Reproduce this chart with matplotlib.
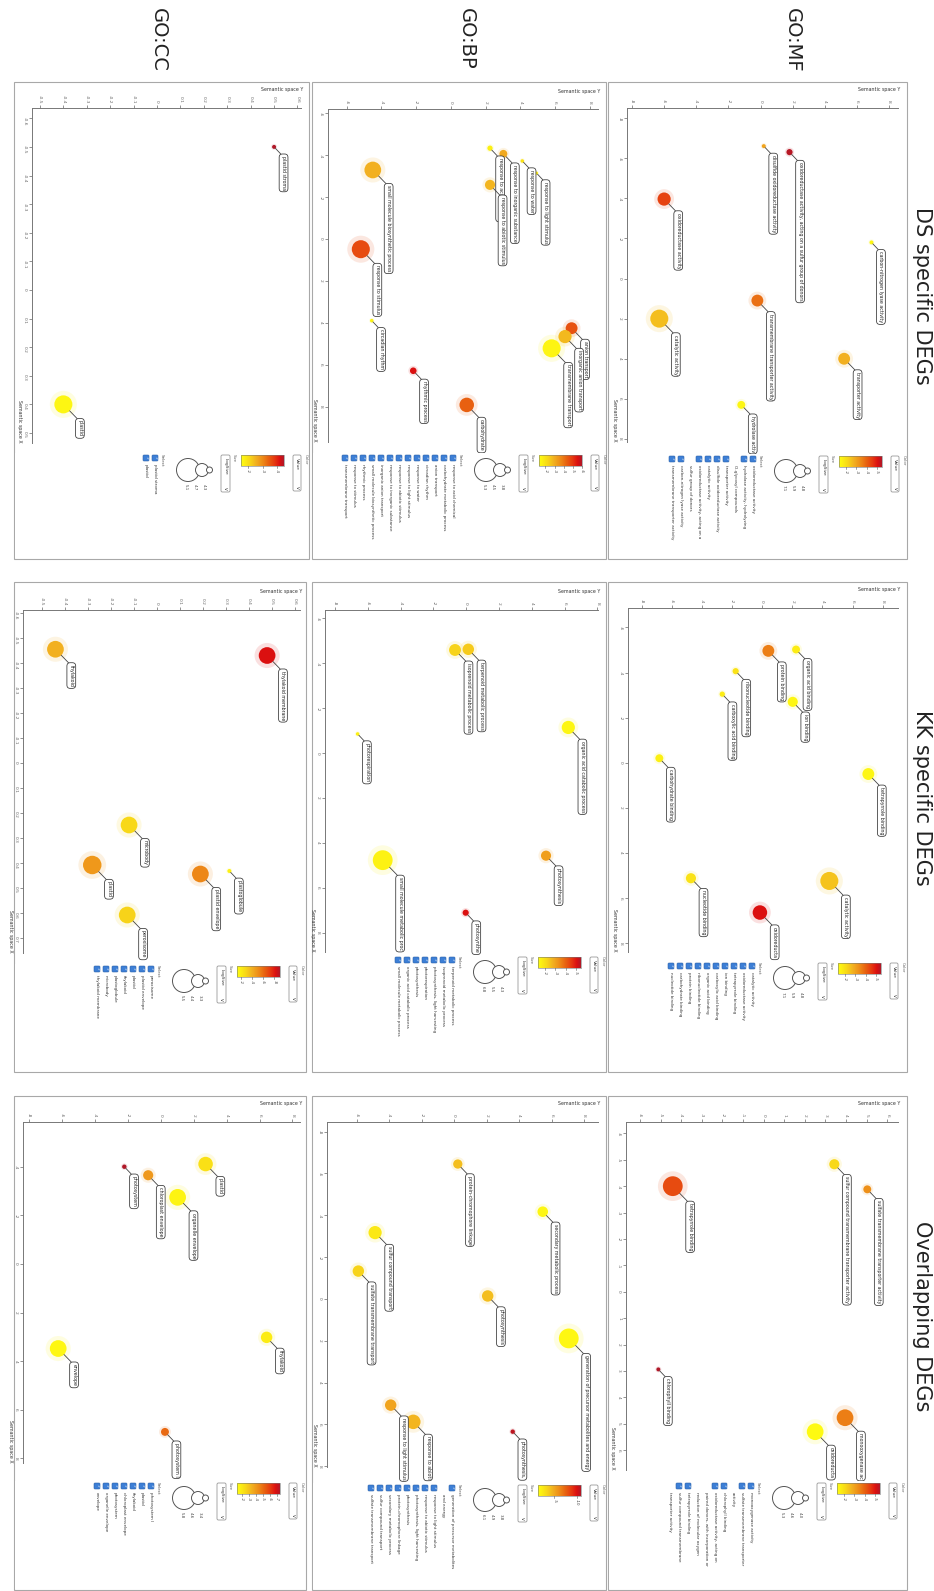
import textwrap
import numpy as np
import matplotlib
matplotlib.use("Agg")
import matplotlib.pyplot as plt
from matplotlib.colors import LinearSegmentedColormap
from matplotlib.patches import Rectangle, FancyBboxPatch, Circle
from matplotlib.transforms import Bbox

W, H = 934, 1591

# ---------------- data ----------------
# sy = Semantic space Y (runs across the page), sx = Semantic space X (runs down the page)
# size = LogSize, value = log10 p-value

# GO:CC - DS specific
cc_ds_terms = ["plastid stroma", "plastid"]
cc_ds_sy = [0.50, -0.40]
cc_ds_sx = [-0.50, 0.40]
cc_ds_size = [3.5, 6.7]
cc_ds_value = [-4.5, -1.65]
cc_ds_select = ["plastid stroma", "plastid"]

# GO:BP - DS specific
bp_ds_terms = ["small molecule biosynthetic process", "response to stimulus", "circadian rhythm",
               "rhythmic process", "carbohydrate metabolic process", "response to acid chemical",
               "response to inorganic substance", "response to abiotic stimulus", "response to water",
               "response to light stimulus", "anion transport", "inorganic anion transport",
               "transmembrane transport"]
bp_ds_sy = [-4.50, -5.19, -4.56, -2.17, 0.91, 2.25, 3.02, 2.25, 4.11, 4.93, 6.95, 6.57, 5.80]
bp_ds_sx = [-3.29, 0.49, 3.90, 6.29, 7.92, -4.33, -4.06, -2.58, -3.72, -3.14, 4.26, 4.66, 5.22]
bp_ds_size = [6.4, 6.7, 3.4, 4.1, 5.9, 3.8, 4.4, 4.9, 3.4, 3.3, 5.3, 5.6, 6.7]
bp_ds_value = [-2.95, -4.68, -1.54, -5.53, -4.36, -1.68, -3.09, -2.85, -2.00, -1.77, -4.59, -2.80, -1.54]
bp_ds_select = ["response to acid chemical", "carbohydrate metabolic process", "anion transport",
                "circadian rhythm", "response to water", "response to light stimulus",
                "response to abiotic stimulus", "response to inorganic substance",
                "inorganic anion transport", "small molecule biosynthetic process",
                "rhythmic process", "response to stimulus", "transmembrane transport"]

# GO:MF - DS specific
mf_ds_terms = ["oxidoreductase activity", "catalytic activity", "disulfide oxidoreductase activity",
               "oxidoreductase activity, acting on a sulfur group of donors",
               "transmembrane transporter activity", "carbon-nitrogen lyase activity",
               "transporter activity", "hydrolase activity, hydrolyzing O-glycosyl compounds"]
mf_ds_sy = [-6.0, -6.3, 0.2, 1.8, -0.2, 6.9, 5.2, -1.2]
mf_ds_sx = [-3.96, 2.0, -6.6, -6.3, 1.1, -1.8, 4.0, 6.3]
mf_ds_size = [5.6, 6.7, 3.5, 4.0, 5.3, 3.5, 5.3, 4.4]
mf_ds_value = [-4.45, -2.56, -2.98, -5.42, -3.82, -1.51, -2.77, -1.51]
mf_ds_select = ["oxidoreductase activity", "hydrolase activity, hydrolyzing O-glycosyl compounds",
                "transporter activity", "disulfide oxidoreductase activity", "catalytic activity",
                "oxidoreductase activity, acting on a sulfur group of donors",
                "carbon-nitrogen lyase activity", "transmembrane transporter activity"]

# GO:CC - KK specific
cc_kk_terms = ["thylakoid", "thylakoid membrane", "microbody", "plastid", "plastid envelope",
               "plastoglobule", "peroxisome"]
cc_kk_sy = [-0.44, 0.48, -0.12, -0.28, 0.19, 0.316, -0.128]
cc_kk_sx = [-0.455, -0.43, 0.248, 0.408, 0.444, 0.432, 0.608]
cc_kk_size = [6.4, 6.4, 6.4, 6.8, 6.4, 3.5, 6.4]
cc_kk_value = [-3.99, -8.23, -2.84, -4.77, -5.30, -1.92, -3.00]
cc_kk_select = ["peroxisome", "plastid envelope", "plastid", "thylakoid", "plastoglobule",
                "microbody", "thylakoid membrane"]

# GO:BP - KK specific
bp_kk_terms = ["isoprenoid metabolic process", "terpenoid metabolic process", "photorespiration",
               "organic acid catabolic process", "small molecule metabolic process", "photosynthesis",
               "photosynthesis, light harvesting"]
bp_kk_sy = [-0.68, 0.13, -6.62, 6.23, -5.09, 4.87, -0.03]
bp_kk_sx = [-4.59, -4.62, -0.85, -1.14, 4.77, 4.57, 7.11]
bp_kk_size = [5.3, 5.2, 3.4, 5.6, 7.1, 4.9, 4.0]
bp_kk_value = [-2.22, -2.35, -1.64, -1.51, -1.59, -3.06, -5.08]
bp_kk_select = ["terpenoid metabolic process", "isoprenoid metabolic process",
                "photosynthesis, light harvesting", "photorespiration", "photosynthesis",
                "organic acid catabolic process", "small molecule metabolic process"]

# GO:MF - KK specific
mf_kk_terms = ["protein binding", "organic acid binding", "ion binding", "ribonucleotide binding",
               "carboxylic acid binding", "carbohydrate binding", "tetrapyrrole binding",
               "nucleotide binding", "oxidoreductase activity", "catalytic activity"]
mf_kk_sy = [0.41, 2.25, 2.03, -1.76, -2.65, -6.83, 7.05, -4.73, -0.15, 4.46]
mf_kk_sx = [-4.96, -5.02, -2.70, -4.06, -3.04, -0.20, 0.50, 5.12, 6.64, 5.24]
mf_kk_size = [5.3, 4.4, 4.9, 4.0, 3.8, 4.4, 5.3, 4.9, 5.9, 6.7]
mf_kk_value = [-3.61, -1.72, -1.51, -1.93, -1.72, -1.64, -1.51, -1.93, -5.08, -2.48]
mf_kk_select = ["catalytic activity", "oxidoreductase activity", "tetrapyrrole binding", "ion binding",
                "carboxylic acid binding", "organic acid binding", "ribonucleotide binding",
                "protein binding", "carbohydrate binding", "nucleotide binding"]

# GO:CC - overlapping
cc_ov_terms = ["photosystem", "chloroplast envelope", "organelle envelope", "plastid", "thylakoid",
               "envelope", "photosystem I"]
cc_ov_sy = [-2.22, -0.77, 1.02, 2.72, 6.43, -6.24, 0.25]
cc_ov_sx = [-4.0, -3.65, -2.74, -4.11, 3.02, 3.48, 6.91]
cc_ov_size = [3.6, 4.9, 6.4, 5.9, 5.2, 6.4, 4.4]
cc_ov_value = [-7.5, -4.09, -1.67, -2.29, -1.92, -1.55, -5.14]
cc_ov_select = ["photosystem I", "plastid", "thylakoid", "chloroplast envelope", "photosystem",
                "organelle envelope", "envelope"]

# GO:BP - overlapping
bp_ov_terms = ["protein-chromophore linkage", "secondary metabolic process", "sulfur compound transport",
               "sulfate transmembrane transport", "photosynthesis",
               "generation of precursor metabolites and energy", "response to light stimulus",
               "response to abiotic stimulus", "photosynthesis, light harvesting"]
bp_ov_sy = [0.22, 5.45, -4.87, -5.90, 2.06, 7.05, -3.91, -2.52, 3.60]
bp_ov_sx = [-6.45, -4.17, -3.17, -1.33, -0.14, 1.89, 5.08, 5.88, 6.35]
bp_ov_size = [4.7, 5.0, 5.6, 5.2, 5.2, 7.1, 5.2, 5.9, 3.6]
bp_ov_value = [-4.21, -1.79, -2.46, -3.43, -4.21, -1.69, -5.18, -4.50, -10.7]
bp_ov_select = ["generation of precursor metabolites and energy", "response to light stimulus",
                "response to abiotic stimulus", "photosynthesis, light harvesting", "photosynthesis",
                "protein-chromophore linkage", "secondary metabolic process",
                "sulfur compound transport", "sulfate transmembrane transport"]

# GO:MF - overlapping
mf_ov_terms = ["tetrapyrrole binding", "sulfur compound transmembrane transporter activity",
               "sulfate transmembrane transporter activity", "chlorophyll binding",
               "monooxygenase activity",
               "oxidoreductase activity, acting on paired donors, with incorporation or reduction of molecular oxygen"]
mf_ov_sy = [-4.41, 3.43, 5.03, -5.11, 3.95, 2.50]
mf_ov_sx = [-4.0, -4.83, -3.88, 2.94, 4.77, 5.30]
mf_ov_size = [7.1, 4.9, 4.4, 3.5, 6.4, 6.4]
mf_ov_value = [-4.32, -2.14, -3.32, -5.5, -3.61, -1.43]
mf_ov_select = ["monooxygenase activity", "sulfate transmembrane transporter activity",
                "chlorophyll binding",
                "oxidoreductase activity, acting on paired donors, with incorporation or reduction of molecular oxygen",
                "tetrapyrrole binding", "sulfur compound transmembrane transporter activity"]

# axis ticks
T8 = [-8, -6, -4, -2, 0, 2, 4, 6, 8]
T68 = [-6, -4, -2, 0, 2, 4, 6, 8]
T48 = [-4, -2, 0, 2, 4, 6, 8]
T6 = [-6, -5, -4, -3, -2, -1, 0, 1, 2, 3, 4, 5, 6]
CC_H = [-0.5, -0.4, -0.3, -0.2, -0.1, 0.0, 0.1, 0.2, 0.3, 0.4, 0.5, 0.6]
CC_DS_V = [-0.6, -0.5, -0.4, -0.3, -0.2, -0.1, 0.0, 0.1, 0.2, 0.3, 0.4, 0.5]
CC_KK_V = [-0.6, -0.5, -0.4, -0.3, -0.2, -0.1, 0.0, 0.1, 0.2, 0.3, 0.4, 0.5, 0.6, 0.7]

col_labels = ["GO:CC", "GO:BP", "GO:MF"]
row_labels = ["DS specific DEGs", "KK specific DEGs", "Overlapping DEGs"]

# ---------------- layout (pixels) ----------------
panels = [
    dict(terms=cc_ds_terms, sy=cc_ds_sy, sx=cc_ds_sx, size=cc_ds_size, value=cc_ds_value,
         select=cc_ds_select, frame=(14, 82, 309, 559), axes=(32, 108, 301, 443),
         hlim=(-0.534, 0.615), vlim=(-0.636, 0.535), hticks=CC_H, vticks=CC_DS_V,
         legend=(308, 455), vrange=(-1.5, -4.5), cticks=[-2, -3, -4], slabels=["5.1", "4.7", "4.3"]),
    dict(terms=bp_ds_terms, sy=bp_ds_sy, sx=bp_ds_sx, size=bp_ds_size, value=bp_ds_value,
         select=bp_ds_select, frame=(312, 82, 606, 559), axes=(328, 109, 598, 442),
         hlim=(-7.08, 8.47), vlim=(-6.2, 9.69), hticks=T68, vticks=T68,
         legend=(606, 455), vrange=(-1.3, -6.0), cticks=[-2, -3, -4, -5, -6], slabels=["5.3", "4.5", "3.8"]),
    dict(terms=mf_ds_terms, sy=mf_ds_sy, sx=mf_ds_sx, size=mf_ds_size, value=mf_ds_value,
         select=mf_ds_select, frame=(608, 82, 907, 559), axes=(627, 108, 898, 442),
         hlim=(-8.31, 8.55), vlim=(-8.5, 8.15), hticks=T8, vticks=T8,
         legend=(906, 456), vrange=(-1.3, -5.5), cticks=[-2, -3, -4, -5], slabels=["7.1", "5.9", "4.8"]),
    dict(terms=cc_kk_terms, sy=cc_kk_sy, sx=cc_kk_sx, size=cc_kk_size, value=cc_kk_value,
         select=cc_kk_select, frame=(14, 582, 306, 1072), axes=(23, 610, 300, 953),
         hlim=(-0.581, 0.623), vlim=(-0.612, 0.76), hticks=CC_H, vticks=CC_KK_V,
         legend=(304, 966), vrange=(-1.3, -9.0), cticks=[-2, -4, -6, -8], slabels=["5.5", "4.4", "3.3"]),
    dict(terms=bp_kk_terms, sy=bp_kk_sy, sx=bp_kk_sx, size=bp_kk_size, value=bp_kk_value,
         select=bp_kk_select, frame=(312, 582, 606, 1072), axes=(325, 610, 598, 952),
         hlim=(-8.61, 8.04), vlim=(-6.37, 8.86), hticks=T8, vticks=T68,
         legend=(605, 957), vrange=(-1.3, -5.5), cticks=[-2, -3, -4, -5], slabels=["6.8", "5.5", "4.3"]),
    dict(terms=mf_kk_terms, sy=mf_kk_sy, sx=mf_kk_sx, size=mf_kk_size, value=mf_kk_value,
         select=mf_kk_select, frame=(608, 582, 907, 1072), axes=(628, 608, 898, 952),
         hlim=(-8.91, 9.02), vlim=(-6.86, 8.39), hticks=T8, vticks=T68,
         legend=(905, 963), vrange=(-1.3, -5.5), cticks=[-2, -3, -4, -5], slabels=["7.1", "5.9", "4.8"]),
    dict(terms=cc_ov_terms, sy=cc_ov_sy, sx=cc_ov_sx, size=cc_ov_size, value=cc_ov_value,
         select=cc_ov_select, frame=(14, 1096, 306, 1590), axes=(23, 1122, 300, 1463),
         hlim=(-8.38, 8.46), vlim=(-5.84, 8.19), hticks=T8, vticks=T48,
         legend=(304, 1483), vrange=(-1.3, -7.5), cticks=[-2, -3, -4, -5, -6, -7], slabels=["5.8", "4.6", "3.4"]),
    dict(terms=bp_ov_terms, sy=bp_ov_sy, sx=bp_ov_sx, size=bp_ov_size, value=bp_ov_value,
         select=bp_ov_select, frame=(312, 1096, 606, 1590), axes=(327, 1122, 598, 1467),
         hlim=(-7.83, 8.85), vlim=(-8.46, 8.04), hticks=T68, vticks=T8,
         legend=(605, 1485), vrange=(-1.3, -11.0), cticks=[-5, -10], slabels=["6.1", "4.9", "3.8"]),
    dict(terms=mf_ov_terms, sy=mf_ov_sy, sx=mf_ov_sx, size=mf_ov_size, value=mf_ov_value,
         select=mf_ov_select, frame=(608, 1096, 907, 1590), axes=(626, 1122, 898, 1470),
         hlim=(-6.68, 6.52), vlim=(-6.43, 6.75), hticks=T6, vticks=T6,
         legend=(904, 1483), vrange=(-1.3, -5.5), cticks=[-2, -3, -4, -5], slabels=["5.3", "4.6", "4.0"]),
]

cmap = LinearSegmentedColormap.from_list("revigo", [
    (0.0, "#ffff10"), (0.2, "#f8d818"), (0.35, "#f2b020"), (0.5, "#ee8c18"),
    (0.65, "#e86010"), (0.78, "#e63a10"), (0.9, "#dc1010"), (1.0, "#b01828")])


def px_rect(l, t, r, b):
    return [l / W, 1 - b / H, (r - l) / W, (b - t) / H]


def radius(ls):
    # bubble radius in pixels from LogSize
    return 2.2 * (np.asarray(ls) - 2.6)


def tick_text(t):
    if float(t).is_integer():
        return str(int(t))
    return f"{t:.1f}"


fig = plt.figure(figsize=(W / 100, H / 100), dpi=100)
base = fig.add_axes([0, 0, 1, 1], zorder=0)
base.set_xlim(0, W)
base.set_ylim(H, 0)
base.axis("off")

rot = dict(rotation=-90, rotation_mode="anchor")
cut_labels = []   # (annotation, legend top) - labels run under the legend like in REVIGO


def draw_legend(p):
    fl, ft, fr, fb = p["frame"]
    Lr, Lt = p["legend"]
    lg = fig.add_axes(px_rect(fl + 1, Lt - 2, fr - 1, fb - 1), zorder=3)
    lg.axis("off")
    lg.add_patch(Rectangle((fl + 1, Lt - 2), fr - fl - 2, fb - Lt + 1, fc="white", ec="none", zorder=0))

    # colour dropdown
    lg.text(Lr - 2, Lt - 1, "Color", fontsize=2.8, color="#666", ha="left", va="center", **rot)
    lg.add_patch(FancyBboxPatch((Lr - 15, Lt), 8, 36, boxstyle="round,pad=0,rounding_size=1.5",
                                fc="white", ec="#999", lw=0.6))
    lg.text(Lr - 11, Lt + 3, "Value", fontsize=3.2, color="#333", ha="left", va="center", **rot)
    lg.text(Lr - 11, Lt + 32, "v", fontsize=3.4, color="#333", ha="center", va="center", **rot)

    # colour bar
    x0, x1 = Lr - 67, Lr - 24
    grad = np.linspace(0, 1, 256)[None, :]
    lg.imshow(grad, cmap=cmap, extent=(x0, x1, Lt + 11, Lt), aspect="auto", zorder=1)
    lg.add_patch(Rectangle((x0, Lt), x1 - x0, 11, fill=False, ec="#777", lw=0.4, zorder=2))
    vhi, vlo = p["vrange"]
    for t in p["cticks"]:
        xt = x0 + (vhi - t) / (vhi - vlo) * (x1 - x0)
        lg.plot([xt, xt], [Lt + 11, Lt + 13], color="#555", lw=0.4)
        lg.text(xt, Lt + 14, tick_text(t), fontsize=2.9, color="#444", ha="left", va="center", **rot)

    # size dropdown + circles
    lg.text(Lr - 74, Lt - 1, "Size", fontsize=2.8, color="#666", ha="left", va="center", **rot)
    lg.add_patch(FancyBboxPatch((Lr - 87, Lt), 9, 37, boxstyle="round,pad=0,rounding_size=1.5",
                                fc="white", ec="#999", lw=0.6))
    lg.text(Lr - 82.5, Lt + 3, "LogSize", fontsize=3.2, color="#333", ha="left", va="center", **rot)
    lg.text(Lr - 82.5, Lt + 33, "v", fontsize=3.4, color="#333", ha="center", va="center", **rot)
    for (cx, rr) in [(Lr - 120, 11.5), (Lr - 106, 6.5), (Lr - 98.5, 3.0)]:
        lg.add_patch(Circle((cx, Lt + 15), rr, fc="white", ec="#555", lw=0.7, zorder=2))
    for cx, s in zip([Lr - 122, Lr - 113, Lr - 104], p["slabels"]):
        lg.text(cx, Lt + 29, s, fontsize=2.9, color="#444", ha="left", va="center", **rot)

    # select list
    lg.text(Lr - 146, Lt - 1, "Select", fontsize=3.0, color="#555", ha="left", va="center", **rot)
    x = Lr - 153
    for item in p["select"]:
        lines = textwrap.wrap(item, 38)
        lg.add_patch(FancyBboxPatch((x - 3, Lt), 6, 6, boxstyle="round,pad=0,rounding_size=1",
                                    fc="#3d7fd6", ec="#2b62aa", lw=0.4, zorder=2))
        lg.text(x, Lt + 3, "\u2713", fontsize=3.2, color="white", ha="center", va="center",
                zorder=3, **rot)
        for ln in lines:
            lg.text(x, Lt + 9, ln, fontsize=3.0, color="#333", ha="left", va="center", **rot)
            x -= 9

    lg.set_xlim(fl + 1, fr - 1)
    lg.set_ylim(fb - 1, Lt - 2)


def draw_panel(p):
    fl, ft, fr, fb = p["frame"]
    Lr, Lt = p["legend"]
    base.add_patch(Rectangle((fl, ft), fr - fl, fb - ft, fill=False, ec="#a8a8a8", lw=0.8))
    al, at, ar, ab = p["axes"]
    ax = fig.add_axes(px_rect(al, at, ar, ab), zorder=2)
    ax.patch.set_alpha(0)
    clip = Bbox([[fl, H - (Lt - 2)], [fr, H - ft]])

    vhi, vlo = p["vrange"]
    frac = np.clip((vhi - np.asarray(p["value"])) / (vhi - vlo), 0, 1)
    colors = cmap(frac)
    r = radius(p["size"])
    ax.scatter(p["sy"], p["sx"], s=(1.44 * r * 1.5) ** 2, c=colors, alpha=0.13,
               linewidths=0, zorder=2, clip_on=False)
    ax.scatter(p["sy"], p["sx"], s=(1.44 * r) ** 2, c=colors, linewidths=0, zorder=3, clip_on=False)

    for t, x, y, ri in zip(p["terms"], p["sy"], p["sx"], r):
        ann = ax.annotate(t, xy=(x, y), xytext=(ri + 7.5, -(ri + 7)), textcoords="offset pixels",
                          fontsize=3.4, color="#222", ha="left", va="center", zorder=4,
                          annotation_clip=False,
                          bbox=dict(boxstyle="round,pad=0.4,rounding_size=0.7", fc="white",
                                    ec="#333", lw=0.55),
                          arrowprops=dict(arrowstyle="-", color="#444", lw=0.6, shrinkA=0,
                                          shrinkB=ri * 0.72, relpos=(0.3, 1.0)),
                          **rot)
        ann.set_clip_on(True)
        ann.set_clip_box(clip)
        cut_labels.append((ann, Lt))

    ax.set_xlim(*p["hlim"])
    ax.set_ylim(p["vlim"][1], p["vlim"][0])
    ax.xaxis.tick_top()
    ax.set_xticks(p["hticks"])
    ax.set_xticklabels([tick_text(t) for t in p["hticks"]])
    ax.set_yticks(p["vticks"])
    ax.set_yticklabels([tick_text(t) for t in p["vticks"]])
    ax.tick_params(axis="both", length=2.5, width=0.5, colors="#666", labelsize=3.2, pad=1,
                   labelrotation=-90)
    for side in ("right", "bottom"):
        ax.spines[side].set_visible(False)
    for side in ("top", "left"):
        ax.spines[side].set_color("#777")
        ax.spines[side].set_linewidth(0.7)

    base.text(ar + 2, at - 18, "Semantic space Y", fontsize=3.4, color="#333", ha="right", va="center")
    base.text(al - 13, ab, "Semantic space X", fontsize=3.4, color="#333", ha="right", va="center", **rot)

    draw_legend(p)


for p in panels:
    draw_panel(p)

for x, lab in zip([158, 466, 792], col_labels):
    base.text(x, 8, lab, fontsize=14, color="#222", ha="left", va="center", **rot)
for y, lab in zip([296, 798, 1316], row_labels):
    base.text(922, y, lab, fontsize=15, color="#222", ha="center", va="center", rotation=-90)

# labels that run under the legend only show the part above it
fig.canvas.draw()
renderer = fig.canvas.get_renderer()
for ann, Lt in cut_labels:
    limit = H - (Lt - 2) + 2
    txt = ann.get_text()
    while len(txt) > 4:
        bb = ann.get_window_extent(renderer)
        if bb.y0 >= limit:
            break
        txt = txt[:-1].rstrip()
        ann.set_text(txt)

fig.savefig("out.png", dpi=100)
